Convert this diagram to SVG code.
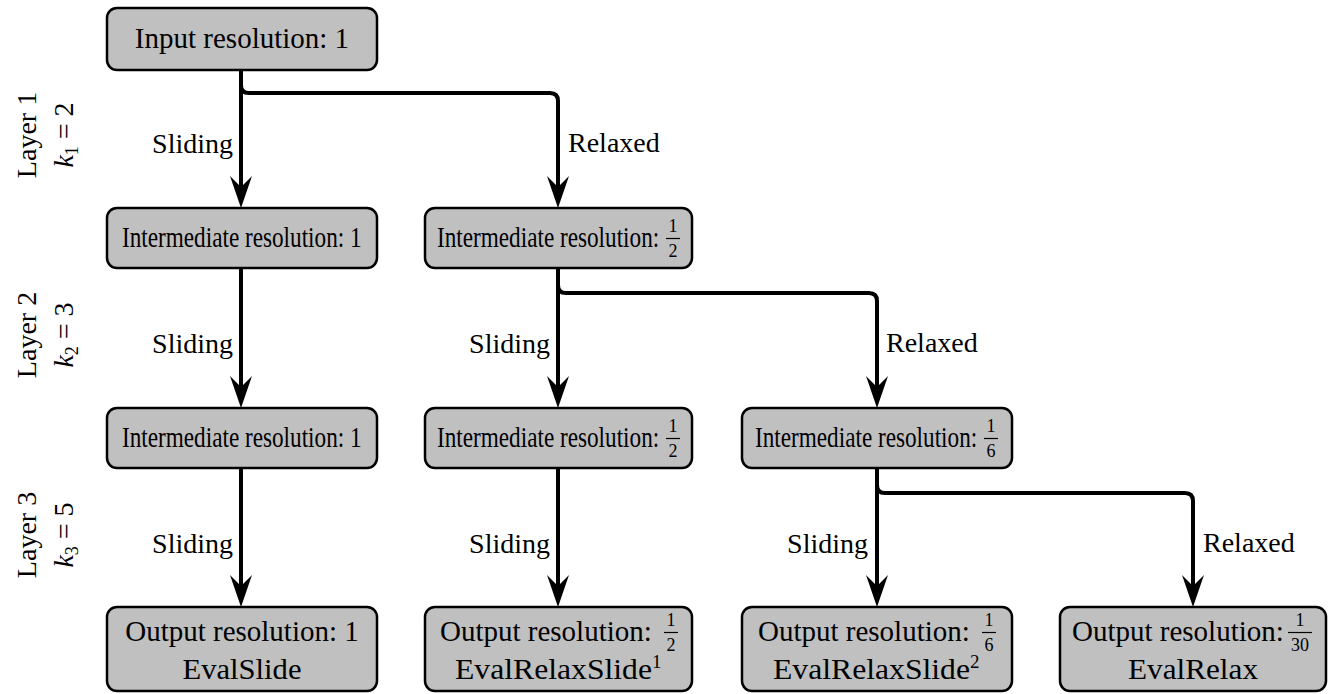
<svg xmlns="http://www.w3.org/2000/svg" width="1330" height="694" viewBox="0 0 1330 694">
  <style>
    .box { fill: #c0c0c0; stroke: #000; stroke-width: 2.5; }
    text { font-family: "Liberation Serif", "Times New Roman", serif; fill: #000; }
    .txt { font-size: 29px; }
    .mid { text-anchor: middle; }
    .end { text-anchor: end; }
    .lbl { font-size: 28px; }
    .fr { font-size: 18px; text-anchor: middle; }
    .bar { stroke: #000; stroke-width: 1.2; }
    .edge { fill: none; stroke: #000; stroke-width: 4; marker-end: url(#head); }
  </style>
  <defs>
    <marker id="head" markerUnits="userSpaceOnUse" viewBox="-12 -12 34 24" markerWidth="34" markerHeight="24" refX="0" refY="0" orient="auto">
      <path d="M21,0 L-11,-11 L0,0 L-11,11 Z" fill="#000"/>
    </marker>
  </defs>

  <!-- layer annotations -->
  <g id="layers" font-family="Liberation Serif, serif" font-size="28">
    <text class="lbl mid" transform="translate(36,135) rotate(-90)">Layer 1</text>
    <text class="lbl mid" transform="translate(73,135) rotate(-90)"><tspan font-style="italic">k</tspan><tspan font-size="18" dy="5">1</tspan><tspan dy="-5"> = 2</tspan></text>
    <text class="lbl mid" transform="translate(36,335) rotate(-90)">Layer 2</text>
    <text class="lbl mid" transform="translate(73,335) rotate(-90)"><tspan font-style="italic">k</tspan><tspan font-size="18" dy="5">2</tspan><tspan dy="-5"> = 3</tspan></text>
    <text class="lbl mid" transform="translate(36,535) rotate(-90)">Layer 3</text>
    <text class="lbl mid" transform="translate(73,535) rotate(-90)"><tspan font-style="italic">k</tspan><tspan font-size="18" dy="5">3</tspan><tspan dy="-5"> = 5</tspan></text>
  </g>

  <!-- connectors -->
  <g id="connectors">
    <path class="edge" d="M241,70 V187"/>
    <path class="edge" d="M241,85 Q241,93 249,93 H550 Q558,93 558,101 V187"/>
    <path class="edge" d="M241,268 V387"/>
    <path class="edge" d="M558,268 V387"/>
    <path class="edge" d="M558,285 Q558,293 566,293 H869 Q877,293 877,301 V387"/>
    <path class="edge" d="M241,468 V586"/>
    <path class="edge" d="M558,468 V586"/>
    <path class="edge" d="M877,468 V586"/>
    <path class="edge" d="M877,485 Q877,493 885,493 H1185 Q1193,493 1193,501 V586"/>
    <g font-family="Liberation Serif, serif" font-size="28">
      <text class="lbl end" x="233" y="153">Sliding</text>
      <text class="lbl" x="568" y="152">Relaxed</text>
      <text class="lbl end" x="233" y="353">Sliding</text>
      <text class="lbl end" x="550" y="353">Sliding</text>
      <text class="lbl" x="886" y="352">Relaxed</text>
      <text class="lbl end" x="233" y="553">Sliding</text>
      <text class="lbl end" x="550" y="553">Sliding</text>
      <text class="lbl end" x="868" y="553">Sliding</text>
      <text class="lbl" x="1203" y="552">Relaxed</text>
    </g>
  </g>

  <!-- input -->
  <g id="input">
    <rect class="box" x="107" y="8" width="270" height="62" rx="10"/>
    <text class="txt mid" x="242" y="48">Input resolution: 1</text>
  </g>

  <!-- layer 1 outputs (condensed labels) -->
  <g id="inter-1a">
    <rect class="box" x="107" y="208" width="270" height="60" rx="10"/>
    <text class="txt" transform="translate(122,247) scale(0.8,1)">Intermediate resolution: 1</text>
  </g>
  <g id="inter-1b">
    <rect class="box" x="425" y="208" width="267" height="60" rx="10"/>
    <text class="txt" transform="translate(437,247) scale(0.8,1)">Intermediate resolution:</text>
    <text class="fr" x="673" y="232">1</text>
    <line class="bar" x1="666" y1="238.5" x2="680" y2="238.5"/>
    <text class="fr" x="673" y="257">2</text>
  </g>

  <!-- layer 2 outputs -->
  <g id="inter-2a">
    <rect class="box" x="107" y="408" width="270" height="60" rx="10"/>
    <text class="txt" transform="translate(122,447) scale(0.8,1)">Intermediate resolution: 1</text>
  </g>
  <g id="inter-2b">
    <rect class="box" x="425" y="408" width="267" height="60" rx="10"/>
    <text class="txt" transform="translate(437,447) scale(0.8,1)">Intermediate resolution:</text>
    <text class="fr" x="673" y="432">1</text>
    <line class="bar" x1="666" y1="438.5" x2="680" y2="438.5"/>
    <text class="fr" x="673" y="457">2</text>
  </g>
  <g id="inter-2c">
    <rect class="box" x="742" y="408" width="270" height="60" rx="10"/>
    <text class="txt" transform="translate(755,447) scale(0.8,1)">Intermediate resolution:</text>
    <text class="fr" x="991" y="432">1</text>
    <line class="bar" x1="984" y1="438.5" x2="998" y2="438.5"/>
    <text class="fr" x="991" y="457">6</text>
  </g>

  <!-- final outputs -->
  <g id="out-slide">
    <rect class="box" x="107" y="607" width="270" height="84" rx="10"/>
    <text class="txt mid" x="242" y="641">Output resolution: 1</text>
    <text class="txt mid" x="242" y="679" textLength="119" lengthAdjust="spacingAndGlyphs">EvalSlide</text>
  </g>
  <g id="out-relaxslide1">
    <rect class="box" x="425" y="607" width="267" height="84" rx="10"/>
    <text class="txt" x="440" y="641">Output resolution:</text>
    <text class="fr" x="671" y="626">1</text>
    <line class="bar" x1="664" y1="632.5" x2="678" y2="632.5"/>
    <text class="fr" x="671" y="651">2</text>
    <text class="txt" x="455" y="679"><tspan textLength="197" lengthAdjust="spacingAndGlyphs">EvalRelaxSlide</tspan><tspan font-size="19" dy="-11">1</tspan></text>
  </g>
  <g id="out-relaxslide2">
    <rect class="box" x="742" y="607" width="270" height="84" rx="10"/>
    <text class="txt" x="758" y="641">Output resolution:</text>
    <text class="fr" x="989" y="626">1</text>
    <line class="bar" x1="982" y1="632.5" x2="996" y2="632.5"/>
    <text class="fr" x="989" y="651">6</text>
    <text class="txt" x="773" y="679"><tspan textLength="197" lengthAdjust="spacingAndGlyphs">EvalRelaxSlide</tspan><tspan font-size="19" dy="-11">2</tspan></text>
  </g>
  <g id="out-relax">
    <rect class="box" x="1060" y="607" width="266" height="84" rx="10"/>
    <text class="txt" x="1072" y="641">Output resolution:</text>
    <text class="fr" x="1300" y="626">1</text>
    <line class="bar" x1="1288" y1="632.5" x2="1312" y2="632.5"/>
    <text class="fr" x="1300" y="651">30</text>
    <text class="txt mid" x="1193" y="679" textLength="130" lengthAdjust="spacingAndGlyphs">EvalRelax</text>
  </g>
</svg>
